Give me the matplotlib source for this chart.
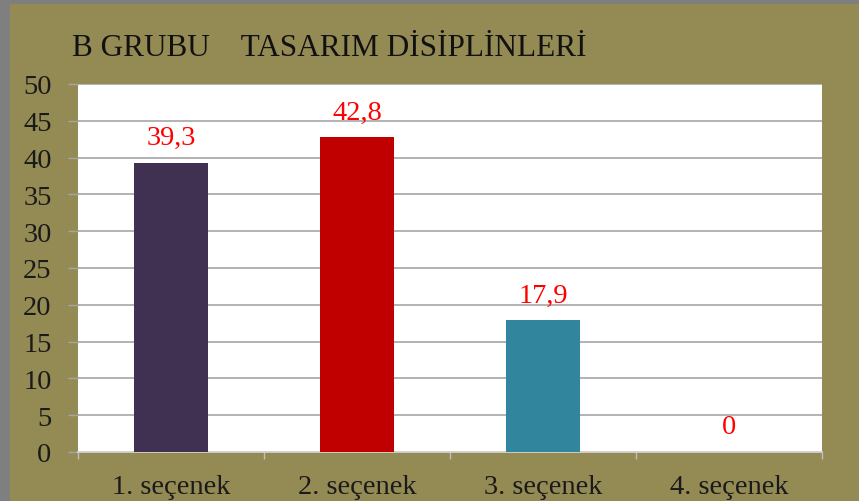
import matplotlib
matplotlib.use("Agg")
import matplotlib.pyplot as plt
from matplotlib.patches import Rectangle
import numpy as np

categories = ["1. seçenek", "2. seçenek", "3. seçenek", "4. seçenek"]
values = [39.3, 42.8, 17.9, 0]
labels = ["39,3", "42,8", "17,9", "0"]
colors = ["#403152", "#C00000", "#31859C", "#4F81BD"]
title = "B GRUBU    TASARIM DİSİPLİNLERİ"

plt.rcParams['font.family'] = ['Liberation Serif', 'DejaVu Serif']

W, H = 859, 502
fig = plt.figure(figsize=(W/100, H/100), dpi=100)
fig.patch.set_facecolor("#948A54")

# gray frame strips (top and left)
fig.patches.append(Rectangle((0, 1 - 5/H), 1, 5/H, transform=fig.transFigure,
                             facecolor="#7F7F7F", edgecolor="none", zorder=0))
fig.patches.append(Rectangle((0, 0), 10/W, 1, transform=fig.transFigure,
                             facecolor="#7F7F7F", edgecolor="none", zorder=0))

ax = fig.add_axes([78/W, (H-453)/H, (822-78)/W, (453-85)/H])
ax.set_facecolor("white")
x = np.arange(len(categories))
ax.bar(x, values, width=0.40, color=colors, zorder=3)
ax.set_xlim(-0.5, len(categories) - 0.5)
ax.set_ylim(0, 50)
ax.set_yticks(np.arange(0, 51, 5))
ax.yaxis.grid(True, color="#A6A6A6", linewidth=1.2, zorder=0)
ax.set_axisbelow(True)
ax.set_xticks(x)
ax.set_xticklabels(categories, fontsize=20.5, color="#1a1a1a")
ax.set_xticks(np.arange(-0.5, len(categories), 1), minor=True)
ax.tick_params(axis='x', which='major', length=0, pad=16)
ax.tick_params(axis='x', which='minor', length=5, color="#BFBFBF", width=1)
ax.tick_params(axis='y', length=7, color="#A6A6A6", width=1, pad=12, labelsize=20.5, labelcolor="#1a1a1a")
for s in ["top", "right", "left"]:
    ax.spines[s].set_visible(False)
ax.spines["bottom"].set_color("#D9D9D9")
ax.spines["bottom"].set_linewidth(1.2)

for xi, v, lab in zip(x, values, labels):
    ax.annotate(lab, (xi, v), xytext=(0, 9), textcoords="offset points",
                ha="center", va="bottom", fontsize=20.5, color="#FF0000", zorder=4)

fig.text(72/W, 1 - 49/H, title, fontsize=22.5, color="#111111", ha="left", va="center")

fig.savefig("out.png", dpi=100, facecolor=fig.get_facecolor())
